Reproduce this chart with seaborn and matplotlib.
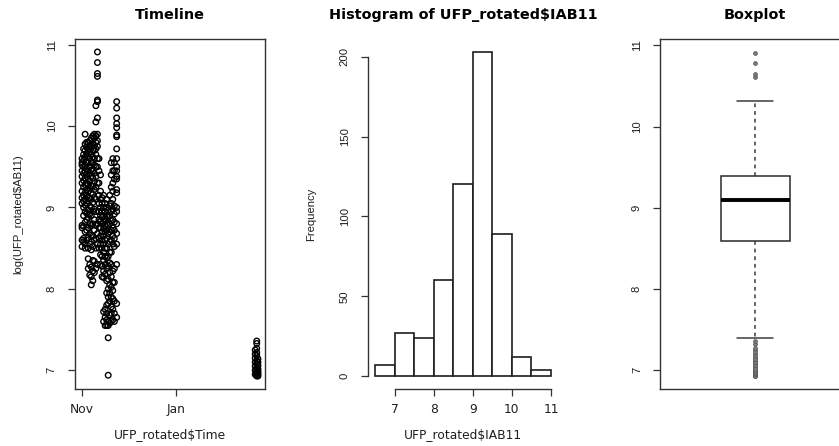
import numpy as np
import pandas as pd
import matplotlib
matplotlib.use("Agg")
import matplotlib.pyplot as plt
import matplotlib.dates as mdates
import seaborn as sns

# --- data ------------------------------------------------------------------
start_date = "2014-11-01"

# (day offset from start_date, log values measured that day)
nov_first_half = [
    (0, [8.52, 8.6, 8.75, 8.78, 9.05, 9.12, 9.2, 9.3, 9.38, 9.45, 9.52, 9.55, 9.6]),
    (1, [8.58, 8.62, 8.77, 8.9, 9.0, 9.08, 9.15, 9.25, 9.33, 9.42, 9.5, 9.58, 9.65, 9.72]),
    (2, [8.5, 8.55, 8.7, 8.82, 8.95, 9.03, 9.1, 9.18, 9.28, 9.36, 9.44, 9.52, 9.62, 9.7, 9.78, 9.9]),
    (3, [8.6, 8.72, 8.85, 8.93, 9.05, 9.14, 9.22, 9.3, 9.4, 9.48, 9.56, 9.66, 9.74, 9.8]),
    (4, [8.25, 8.37, 8.5, 8.63, 8.75, 8.88, 8.97, 9.08, 9.2, 9.28, 9.35, 9.45, 9.55, 9.63, 9.72, 9.8]),
    (5, [8.17, 8.3, 8.55, 8.68, 8.8, 8.92, 9.02, 9.12, 9.24, 9.32, 9.42, 9.5, 9.6, 9.68, 9.76, 9.82]),
    (6, [8.05, 8.15, 8.27, 8.48, 8.58, 8.66, 8.78, 8.9, 9.0, 9.1, 9.18, 9.27, 9.38, 9.46, 9.55, 9.65, 9.75, 9.85]),
    (7, [8.1, 8.22, 8.35, 8.52, 8.65, 8.8, 8.95, 9.06, 9.16, 9.26, 9.36, 9.45, 9.55, 9.62, 9.7, 9.78, 9.88]),
    (8, [8.2, 8.34, 8.6, 8.72, 8.85, 8.98, 9.12, 9.22, 9.32, 9.42, 9.52, 9.6, 9.7, 9.76, 9.85, 9.9]),
    (9, [8.25, 8.5, 8.62, 8.78, 8.95, 9.1, 9.25, 9.38, 9.5, 9.65, 9.72, 9.8, 9.88, 10.05, 10.25]),
    (10, [8.3, 8.55, 8.68, 8.8, 9.3, 9.5, 9.6, 9.75, 9.82, 9.9, 10.1, 10.3, 10.32, 10.61, 10.645, 10.78, 10.91]),
]

nov_second_half = [
    (11, [8.5, 8.62, 8.75, 8.85, 8.95, 9.05, 9.15, 9.3, 9.45, 9.6]),
    (12, [8.3, 8.42, 8.55, 8.65, 8.75, 8.83, 8.9, 9.0, 9.1, 9.2, 9.4]),
    (13, [8.15, 8.28, 8.4, 8.5, 8.6, 8.7, 8.8, 8.88, 8.96, 9.05, 9.12]),
    (14, [7.6, 7.72, 8.14, 8.22, 8.35, 8.45, 8.55, 8.65, 8.74, 8.82, 8.9, 9.0, 9.15]),
    (15, [7.55, 7.65, 7.75, 8.18, 8.3, 8.4, 8.5, 8.6, 8.7, 8.78, 8.86, 8.95, 9.05]),
    (16, [7.55, 7.62, 7.7, 7.8, 7.95, 8.1, 8.25, 8.38, 8.5, 8.62, 8.72, 8.8, 8.9, 9.0, 9.1]),
    (17, [6.94, 7.4, 7.55, 7.6, 7.82, 7.9, 8.0, 8.12, 8.28, 8.4, 8.55, 8.68, 8.78, 8.88, 8.97]),
    (18, [7.58, 7.68, 7.85, 7.95, 8.05, 8.2, 8.32, 8.45, 8.58, 8.7, 8.8, 8.9, 9.02, 9.15]),
    (19, [7.6, 7.7, 7.78, 7.9, 8.02, 8.15, 8.3, 8.45, 8.6, 8.72, 8.84, 8.95, 9.05, 9.25, 9.4, 9.55]),
    (20, [7.62, 7.75, 7.88, 7.98, 8.08, 8.22, 8.55, 8.65, 8.75, 8.85, 8.98, 9.1, 9.2, 9.3, 9.45, 9.6]),
    (21, [7.6, 7.7, 7.85, 8.08, 8.25, 8.52, 8.62, 8.72, 8.82, 8.92, 9.02, 9.35, 9.45, 9.55]),
    (22.5, [7.65, 7.82, 8.3, 8.55, 8.68, 8.8, 8.95, 9.0, 9.18, 9.22, 9.35, 9.38, 9.45, 9.5,
            9.6, 9.72, 9.87, 9.89, 9.98, 10.03, 10.1, 10.22, 10.3]),
]

feb_cluster = [
    (112.5, [6.95, 7.0, 7.05, 7.1, 7.15, 7.2, 7.25]),
    (113.5, [6.93, 6.94, 6.96, 6.98, 7.0, 7.03, 7.08, 7.12, 7.18, 7.22, 7.27, 7.33, 7.36]),
    (114.3, [6.93, 6.95, 6.97, 6.99, 7.02, 7.06, 7.1, 7.14]),
]

hist_edges = [6.5, 7.0, 7.5, 8.0, 8.5, 9.0, 9.5, 10.0, 10.5, 11.0]
hist_counts = [7, 27, 24, 60, 120, 203, 89, 12, 4]

box_q1, box_median, box_q3 = 8.593, 9.10, 9.395
whisker_low, whisker_high = 7.397, 10.32

# --- build the scatter table ------------------------------------------------
rows = []
for group in (nov_first_half, nov_second_half, feb_cluster):
    for day, vals in group:
        for v in vals:
            rows.append((day, v))
timeline = pd.DataFrame(rows, columns=["day", "value"])
timeline["Time"] = pd.Timestamp(start_date) + pd.to_timedelta(timeline["day"], unit="D")

# --- style ------------------------------------------------------------------
sns.set_style("ticks")
plt.rcParams["font.family"] = ["DejaVu Sans"]
ink = "#1e1e1e"
frame = "#333333"
h_size = 8.8      # horizontal text
v_size = 8.1      # vertical (rotated) text
v_font = "Liberation Sans"

W, H = 839, 446
fig = plt.figure(figsize=(W / 100, H / 100), dpi=100)
fig.patch.set_facecolor("white")


def axes_at(left_px, width_px):
    return fig.add_axes([left_px / W, 57 / H, width_px / W, 350 / H])


ax1 = axes_at(75, 190)
ax2 = axes_at(368, 190)
ax3 = axes_at(660.3, 190)


def r_axes(ax, box=True):
    for side in ["top", "right", "left", "bottom"]:
        ax.spines[side].set_color(frame)
        ax.spines[side].set_linewidth(1.0)
        if not box and side in ("top", "right"):
            ax.spines[side].set_visible(False)
    ax.tick_params(direction="out", length=5, width=0.9, color=frame,
                   labelcolor=ink)
    ax.tick_params(axis="x", pad=5.2, labelsize=h_size)
    ax.tick_params(axis="y", pad=8.2, labelsize=v_size)
    for lab in ax.get_yticklabels():
        lab.set_rotation(90)
        lab.set_va("center")
        lab.set_family(v_font)
    ax.grid(False)


def titles(ax, title, xlabel, ylabel):
    ax.text(0.5, 1 + 24 / 350, title, transform=ax.transAxes, ha="center",
            va="center", fontsize=10.4, fontweight="bold", color="black")
    ax.set_xlabel(xlabel, fontsize=h_size, color=ink)
    ax.xaxis.set_label_coords(0.5, -46 / 350)
    ax.xaxis.label.set_va("center")
    ax.set_ylabel(ylabel, fontsize=v_size, color=ink, family=v_font)
    ax.yaxis.set_label_coords(-57 / 190, 0.5)
    ax.yaxis.label.set_va("center")


# --- panel 1: timeline --------------------------------------------------------
sns.scatterplot(data=timeline, x="Time", y="value", ax=ax1, marker="o",
                s=16, facecolors="none", edgecolor="black", linewidth=1.0,
                legend=False)
ax1.margins(x=0.04, y=0.04)
ax1.autoscale_view()
nov = mdates.date2num(pd.Timestamp(start_date))
jan = mdates.date2num(pd.Timestamp("2015-01-01"))
ax1.set_xticks([nov, jan])
ax1.set_xticklabels(["Nov", "Jan"])
ax1.set_yticks([7, 8, 9, 10, 11])
ax1.set_yticklabels(["7", "8", "9", "10", "11"])
r_axes(ax1)
titles(ax1, "Timeline", "UFP_rotated$Time", "log(UFP_rotated$AB11)")

# --- panel 2: histogram -------------------------------------------------------
centers = [(a + b) / 2 for a, b in zip(hist_edges[:-1], hist_edges[1:])]
sns.histplot(x=centers, weights=hist_counts, bins=hist_edges, ax=ax2,
             color="white", edgecolor=ink, linewidth=1.2, alpha=1)
span = hist_edges[-1] - hist_edges[0]
ax2.set_xlim(hist_edges[0] - 0.04 * span, hist_edges[-1] + 0.04 * span)
top = max(hist_counts)
ax2.set_ylim(-0.04 * top, top * 1.04)
ax2.set_xticks([7, 8, 9, 10, 11])
ax2.set_xticklabels(["7", "8", "9", "10", "11"])
ax2.set_yticks([0, 50, 100, 150, 200])
ax2.set_yticklabels(["0", "50", "100", "150", "200"])
r_axes(ax2, box=False)
ax2.spines["left"].set_bounds(0, 200)
ax2.spines["bottom"].set_bounds(7, 11)
titles(ax2, "Histogram of UFP_rotated$IAB11", "UFP_rotated$IAB11", "Frequency")

# --- panel 3: boxplot ---------------------------------------------------------
values = timeline["value"]
fliers = values[(values > whisker_high) | (values < whisker_low)].tolist()
stats = [dict(med=box_median, q1=box_q1, q3=box_q3, whislo=whisker_low,
              whishi=whisker_high, fliers=fliers)]
ax3.bxp(stats, positions=[1], widths=0.365, capwidths=0.19, patch_artist=True,
        boxprops=dict(facecolor="white", edgecolor="#2a2a2a", linewidth=1.1),
        medianprops=dict(color="black", linewidth=2.8),
        whiskerprops=dict(color="#3c3c3c", linewidth=1.1, linestyle=(0, (2.5, 2.5))),
        capprops=dict(color="#3c3c3c", linewidth=1.1),
        flierprops=dict(marker="o", markersize=2.8, markerfacecolor="#7a7a7a",
                        markeredgecolor="#555555", markeredgewidth=0.5))
ax3.set_xlim(0.5, 1.5)
ax3.set_ylim(6.77, 11.08)
ax3.set_xticks([])
ax3.set_yticks([7, 8, 9, 10, 11])
ax3.set_yticklabels(["7", "8", "9", "10", "11"])
r_axes(ax3)
ax3.text(0.5, 1 + 24 / 350, "Boxplot", transform=ax3.transAxes, ha="center",
         va="center", fontsize=10.4, fontweight="bold", color="black")

fig.savefig("out.png", dpi=100, facecolor="white")
